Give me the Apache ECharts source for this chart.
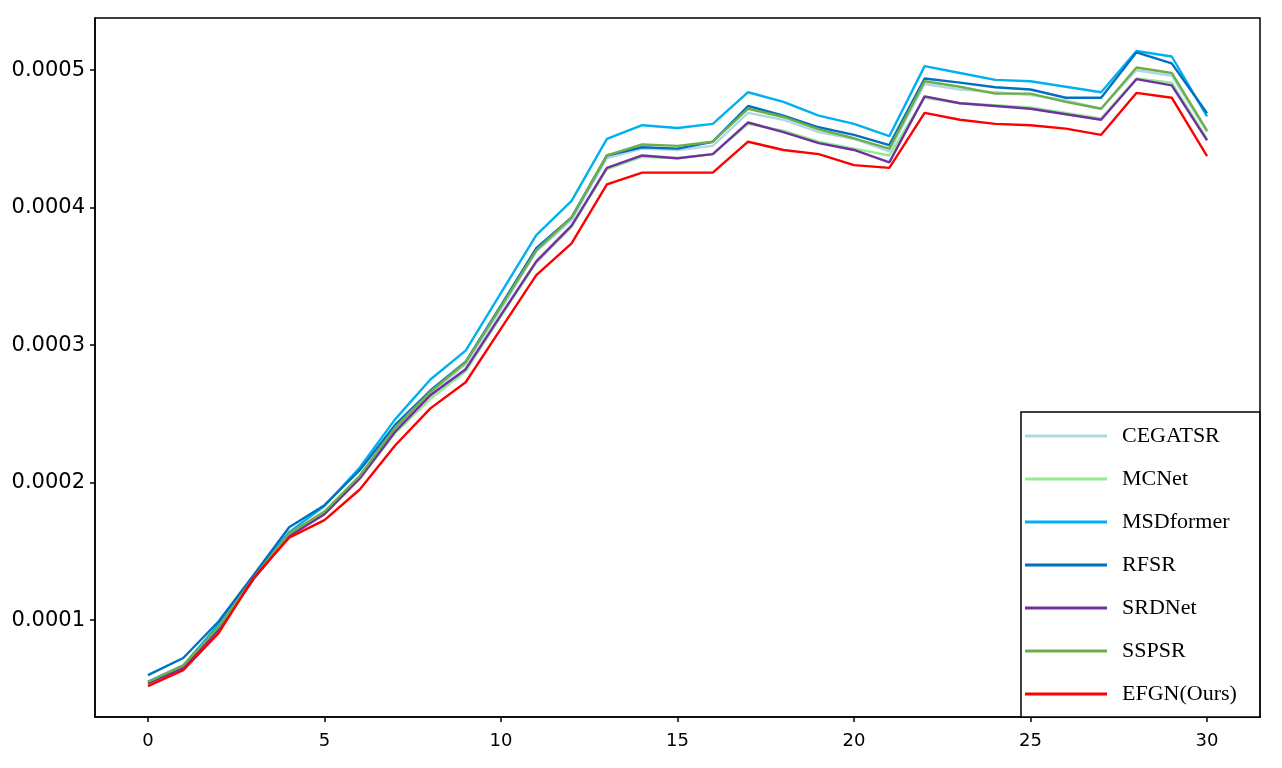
<!DOCTYPE html>
<html>
<head>
<meta charset="utf-8">
<script src="https://cdn.jsdelivr.net/npm/echarts@6/dist/echarts.min.js"></script>
<style>html,body{margin:0;padding:0;background:#fff}#c{width:1282px;height:768px}</style>
</head>
<body>
<div id="c"></div>
<script>
const xValues = [0,1,2,3,4,5,6,7,8,9,10,11,12,13,14,15,16,17,18,19,20,21,22,23,24,25,26,27,28,29,30];
const xTicks = [0,5,10,15,20,25,30];
const yTicks = [0.0001,0.0002,0.0003,0.0004,0.0005];

const CEGATSR  = [0.000055,0.000066,0.000095,0.000131,0.000162,0.000178,0.000204,0.000239,0.000265,0.000286,0.000326,0.000368,0.000391,0.000436,0.000443,0.000442,0.000445,0.000469,0.000464,0.000455,0.000450,0.000441,0.000490,0.000486,0.000484,0.000482,0.000478,0.000472,0.000500,0.000496,0.000455];
const MCNet    = [0.000054,0.000066,0.000094,0.000130,0.000162,0.000178,0.000203,0.000236,0.000261,0.000281,0.000321,0.000360,0.000386,0.000428,0.000437,0.000436,0.000439,0.000461,0.000456,0.000448,0.000443,0.000438,0.000480,0.000476,0.0004745,0.000473,0.000469,0.000465,0.000494,0.000491,0.000450];
const MSDformer= [0.000055,0.000067,0.000097,0.000132,0.000164,0.000183,0.000211,0.000246,0.000275,0.000296,0.000338,0.000380,0.000405,0.000450,0.000460,0.000458,0.000461,0.000484,0.000477,0.000467,0.000461,0.000452,0.000503,0.000498,0.000493,0.000492,0.000488,0.000484,0.000514,0.000510,0.0004665];
const RFSR     = [0.000060,0.0000724,0.000099,0.000133,0.0001676,0.0001836,0.000209,0.000242,0.000267,0.000288,0.000329,0.0003705,0.000393,0.000438,0.000444,0.000443,0.000448,0.000474,0.000467,0.0004585,0.000453,0.0004455,0.000494,0.000491,0.0004876,0.000486,0.000480,0.000480,0.000513,0.000505,0.0004687];
const SRDNet   = [0.000054,0.000065,0.000093,0.000130,0.000161,0.000177,0.000203,0.000237,0.0002636,0.0002825,0.000322,0.000361,0.000387,0.000429,0.000438,0.000436,0.000439,0.000462,0.000455,0.000447,0.000442,0.000433,0.000481,0.000476,0.000474,0.000472,0.000468,0.000464,0.0004935,0.000489,0.000449];
const SSPSR    = [0.000055,0.000067,0.000095,0.000131,0.000163,0.000179,0.000205,0.000240,0.000266,0.0002876,0.000328,0.000369,0.000393,0.000438,0.000446,0.000445,0.000448,0.000472,0.000466,0.000457,0.0004505,0.000443,0.000492,0.000488,0.000483,0.000483,0.000477,0.000472,0.000502,0.000498,0.000456];
const EFGN     = [0.000052,0.0000636,0.0000905,0.000131,0.000160,0.0001727,0.000195,0.000227,0.000254,0.000273,0.000312,0.000351,0.000374,0.000417,0.0004255,0.0004255,0.0004255,0.000448,0.000442,0.000439,0.000431,0.000429,0.000469,0.000464,0.000461,0.000460,0.0004575,0.000453,0.0004835,0.000480,0.0004375];

const seriesNames = ['CEGATSR','MCNet','MSDformer','RFSR','SRDNet','SSPSR','EFGN(Ours)'];
const seriesData = [CEGATSR, MCNet, MSDformer, RFSR, SRDNet, SSPSR, EFGN];
const colors = ['#ADD8E6','#90EE90','#00B0F0','#0070C0','#7030A0','#70AD47','#FF0000'];

const chart = echarts.init(document.getElementById('c'), null, {renderer:'canvas'});
chart.setOption({
  animation: false,
  backgroundColor: '#fff',
  grid: {left: 95, right: 22, top: 18, bottom: 51, show: true, borderColor: '#000', borderWidth: 1.5, containLabel: false},
  xAxis: {
    type: 'value', min: -1.5, max: 31.5,
    axisLine: {show: true, onZero: false, lineStyle: {color: '#000', width: 1.5}},
    axisTick: {show: true, inside: false, length: 5, customValues: xTicks, lineStyle: {color: '#000', width: 1.5}},
    axisLabel: {show: true, customValues: xTicks, margin: 15, color: '#000', fontFamily: 'DejaVu Sans', fontSize: 18},
    splitLine: {show: false}
  },
  yAxis: {
    type: 'value', min: 0.0000295, max: 0.000538,
    axisLine: {show: true, onZero: false, lineStyle: {color: '#000', width: 1.5}},
    axisTick: {show: true, inside: false, length: 5, customValues: yTicks, lineStyle: {color: '#000', width: 1.5}},
    axisLabel: {show: true, customValues: yTicks, margin: 10, color: '#000', fontFamily: 'DejaVu Sans', fontSize: 21,
      formatter: v => Number(v).toFixed(4)},
    splitLine: {show: false}
  },
  legend: {
    orient: 'vertical', left: 1021, top: 412,
    icon: 'rect', itemWidth: 82, itemHeight: 3, itemGap: 21, itemTextGap: 15,
    padding: [13, 23, 12, 4],
    backgroundColor: '#fff', borderColor: '#000', borderWidth: 1.5,
    textStyle: {fontFamily: 'Liberation Serif', fontSize: 22, color: '#000', padding: [0, 0, 0, 10]},
    data: seriesNames
  },
  series: seriesNames.map((n, i) => ({
    name: n, type: 'line', symbol: 'none', smooth: false,
    data: xValues.map((x, j) => [x, seriesData[i][j]]),
    lineStyle: {color: colors[i], width: 2.4},
    itemStyle: {color: colors[i]},
    z: 2 + i
  }))
});
</script>
</body>
</html>
